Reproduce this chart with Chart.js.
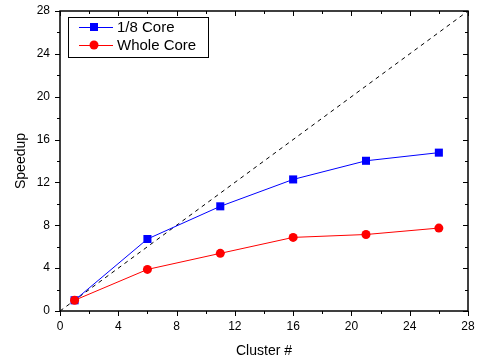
<!DOCTYPE html>
<html>
<head>
<meta charset="utf-8">
<script src="https://cdn.jsdelivr.net/npm/chart.js@4.4.0/dist/chart.umd.min.js"></script>
<style>
  html, body { margin: 0; padding: 0; background: #fff; }
</style>
</head>
<body>
<canvas id="myChart" width="478" height="361"></canvas>
<script>
    // datos

const clusters = [1, 6, 11, 16, 21, 26];
const octavoCore = [1.0, 6.72, 9.77, 12.28, 14.02, 14.78];
const wholeCore = [1.0, 3.88, 5.38, 6.87, 7.14, 7.74];
const idealX = [0, 28];
const idealY = [0, 28];
const tickValues = [0, 4, 8, 12, 16, 20, 24, 28];

const fuente = "Arial, 'Liberation Sans', sans-serif";

const toPoints = (xs, ys) => xs.map((x, i) => ({ x: x, y: ys[i] }));

    // marco y ticks estilo Origin

const marcoPlugin = {
    id: 'marco',
    afterDraw(chart) {
        const ctx = chart.ctx;
        const a = chart.chartArea;
        const sx = chart.scales.x;
        const sy = chart.scales.y;
        ctx.save();
        ctx.strokeStyle = '#000';
        ctx.lineWidth = 1;
        ctx.beginPath();
        for (let v = 0; v <= 28; v += 2) {
            const len = v % 4 === 0 ? 5 : 3;
            const px = Math.round(sx.getPixelForValue(v)) + 0.5;
            ctx.moveTo(px, a.bottom);
            ctx.lineTo(px, a.bottom + len);
            ctx.moveTo(px, a.top);
            ctx.lineTo(px, a.top + len);
            const py = Math.round(sy.getPixelForValue(v)) + 0.5;
            ctx.moveTo(a.left, py);
            ctx.lineTo(a.left - len, py);
            ctx.moveTo(a.right, py);
            ctx.lineTo(a.right - len, py);
        }
        ctx.stroke();
        ctx.lineWidth = 1.5;
        ctx.strokeRect(a.left, a.top, a.right - a.left, a.bottom - a.top);
        ctx.restore();
    }
};

    // leyenda dentro del grafico

const leyendaPlugin = {
    id: 'leyenda',
    afterDraw(chart) {
        const ctx = chart.ctx;
        const a = chart.chartArea;
        const x0 = a.left + 8;
        const y0 = a.top + 6;
        ctx.save();
        ctx.fillStyle = '#fff';
        ctx.fillRect(x0, y0, 140, 40);
        ctx.strokeStyle = '#000';
        ctx.lineWidth = 1;
        ctx.strokeRect(x0 + 0.5, y0 + 0.5, 140, 40);
        const items = [chart.data.datasets[0], chart.data.datasets[1]];
        items.forEach((ds, i) => {
            const y = y0 + 10 + i * 18;
            ctx.strokeStyle = ds.borderColor;
            ctx.lineWidth = 1;
            ctx.beginPath();
            ctx.moveTo(x0 + 11, y + 0.5);
            ctx.lineTo(x0 + 45, y + 0.5);
            ctx.stroke();
            ctx.fillStyle = ds.backgroundColor;
            if (ds.pointStyle === 'rect') {
                ctx.fillRect(x0 + 22, y - 4, 8, 8);
            } else {
                ctx.beginPath();
                ctx.arc(x0 + 26, y, 4.5, 0, Math.PI * 2);
                ctx.fill();
            }
            ctx.fillStyle = '#000';
            ctx.font = '15px ' + fuente;
            ctx.textBaseline = 'middle';
            ctx.textAlign = 'left';
            ctx.fillText(ds.label, x0 + 49, y + 1);
        });
        ctx.restore();
    }
};

const data = {
    datasets: [{
        label: '1/8 Core',
        data: toPoints(clusters, octavoCore),
        borderColor: '#0000ff',
        backgroundColor: '#0000ff',
        borderWidth: 1,
        pointStyle: 'rect',
        pointRadius: 5.7,
        pointBorderWidth: 0,
        order: 1
    }, {
        label: 'Whole Core',
        data: toPoints(clusters, wholeCore),
        borderColor: '#ff0000',
        backgroundColor: '#ff0000',
        borderWidth: 1,
        pointStyle: 'circle',
        pointRadius: 4.5,
        pointBorderWidth: 0,
        order: 0
    }, {
        label: 'ideal',
        data: toPoints(idealX, idealY),
        borderColor: '#000',
        borderWidth: 1,
        borderDash: [4, 4],
        pointRadius: 0,
        order: 2
    }]
};

const config = {
    type: 'line',
    data,
    plugins: [marcoPlugin, leyendaPlugin],
    options: {
        responsive: false,
        animation: false,
        devicePixelRatio: 1,
        layout: { padding: { left: 0, right: 10, top: 11, bottom: 0 } },
        plugins: {
            legend: { display: false },
            tooltip: { enabled: false }
        },
        scales: {
            x: {
                type: 'linear',
                min: 0,
                max: 28,
                afterBuildTicks: (s) => { s.ticks = tickValues.map(v => ({ value: v })); },
                afterFit: (s) => { s.height = 50; s.paddingLeft = 0; s.paddingRight = 0; },
                grid: { display: false, drawTicks: false },
                border: { display: false },
                ticks: { color: '#000', padding: 8, font: { family: fuente, size: 12 } },
                title: {
                    display: true,
                    text: 'Cluster #',
                    color: '#000',
                    padding: { top: 0, bottom: 1 },
                    font: { family: fuente, size: 14 }
                }
            },
            y: {
                type: 'linear',
                min: 0,
                max: 28,
                afterBuildTicks: (s) => { s.ticks = tickValues.map(v => ({ value: v })); },
                afterFit: (s) => { s.width = 60; s.paddingTop = 0; s.paddingBottom = 0; },
                grid: { display: false, drawTicks: false },
                border: { display: false },
                ticks: { color: '#000', padding: 10, font: { family: fuente, size: 12 } },
                title: {
                    display: true,
                    text: 'Speedup',
                    color: '#000',
                    padding: { top: 13, bottom: 0 },
                    font: { family: fuente, size: 14 }
                }
            }
        }
    }
};

let myChart = new Chart(document.getElementById('myChart').getContext('2d'), config);
</script>
</body>
</html>
